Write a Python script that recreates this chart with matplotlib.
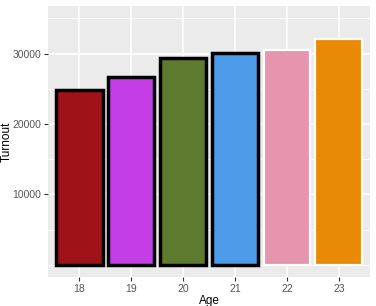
import numpy as np
import matplotlib.pyplot as plt
from matplotlib.ticker import MultipleLocator

# Turnout by age
ages = ['18', '19', '20', '21', '22', '23']
turnout = [24800, 26700, 29300, 30100, 30550, 32100]
fill_colors = ['#A0121A', '#C43EE8', '#5E7A2F', '#4C9BE8', '#E596AE', '#E88A06']
edge_colors = ['black', 'black', 'black', 'black', 'white', 'white']
edge_widths = [2.5, 2.5, 2.5, 2.5, 1.6, 1.6]

plt.rcParams['font.family'] = ['Liberation Sans', 'DejaVu Sans']

fig = plt.figure(figsize=(3.76, 3.06), dpi=100)
ax = fig.add_axes([48 / 376, 29 / 306, 322 / 376, 271 / 306])
ax.set_facecolor('#EBEBEB')

x = np.arange(len(ages))
ax.bar(x, turnout, width=0.9, color=fill_colors, edgecolor=edge_colors,
       linewidth=edge_widths, zorder=3)

ax.set_xlim(-0.6, len(ages) - 0.4)
ax.set_ylim(-1730, 36750)
ax.set_xticks(x)
ax.set_xticklabels(ages)
ax.yaxis.set_minor_locator(MultipleLocator(5000))
ax.set_yticks([10000, 20000, 30000])

ax.grid(which='major', color='white', linewidth=1.1, zorder=0)
ax.grid(which='minor', axis='y', color='white', linewidth=0.55, zorder=0)
ax.tick_params(which='minor', length=0)
ax.tick_params(which='major', length=3, width=0.8, color='#333333',
               labelsize=7.5, labelcolor='#555555', pad=2)
for s in ax.spines.values():
    s.set_visible(False)

ax.set_xlabel('Age', fontsize=8.5, labelpad=1)
ax.set_ylabel('Turnout', fontsize=8.5)
ax.yaxis.set_label_coords(-0.108, 0.5)

fig.savefig('out.png', dpi=100)
